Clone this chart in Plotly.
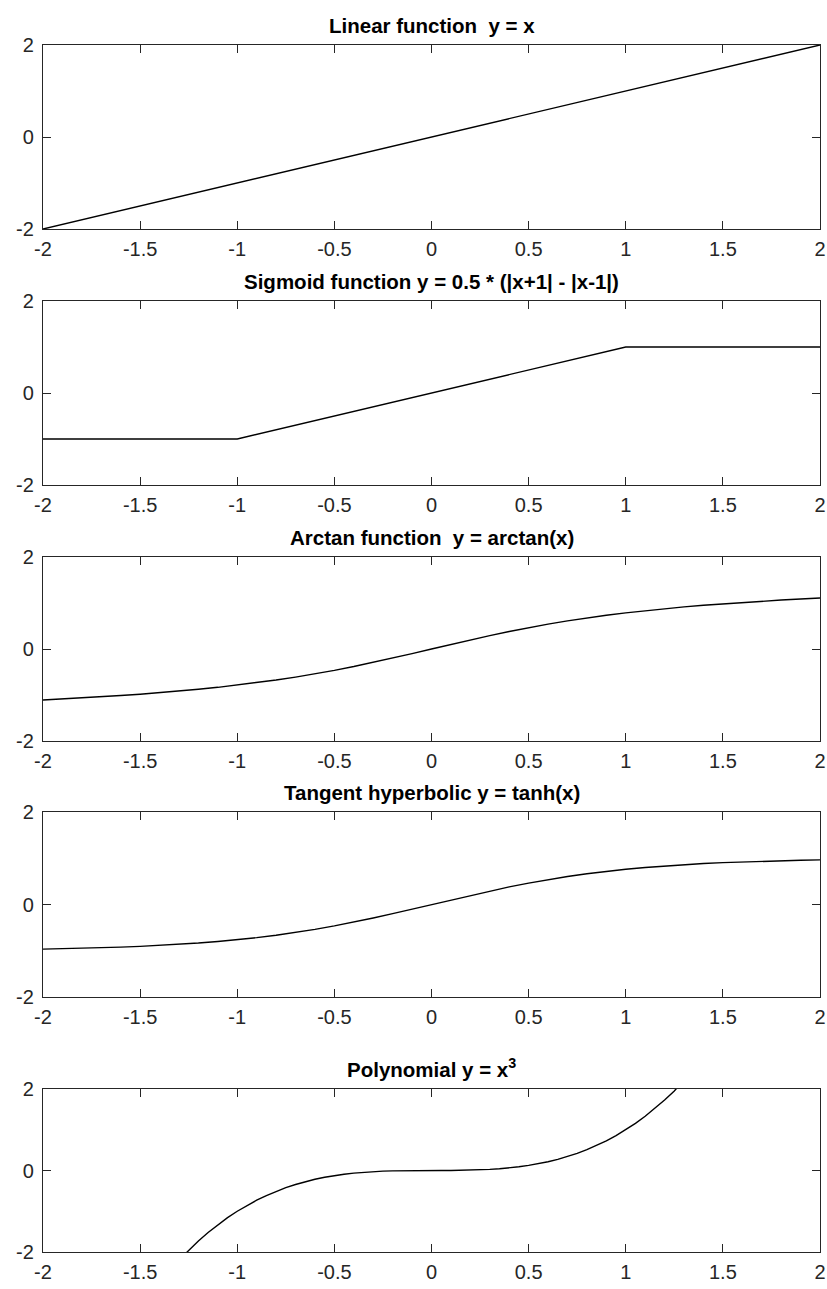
import plotly.graph_objects as go

# ---------------- data ----------------
x_linear = [-2, 2]
y_linear = [-2, 2]

x_sigmoid = [-2, -1, 1, 2]
y_sigmoid = [-1, -1, 1, 1]

x_smooth = [-2.0, -1.9, -1.8, -1.7, -1.6, -1.5, -1.4, -1.3, -1.2, -1.1, -1.0,
            -0.9, -0.8, -0.7, -0.6, -0.5, -0.4, -0.3, -0.2, -0.1, 0.0,
            0.1, 0.2, 0.3, 0.4, 0.5, 0.6, 0.7, 0.8, 0.9, 1.0,
            1.1, 1.2, 1.3, 1.4, 1.5, 1.6, 1.7, 1.8, 1.9, 2.0]
y_arctan = [-1.1071, -1.0863, -1.0637, -1.0391, -1.0122, -0.9828, -0.9505, -0.9151, -0.8761, -0.8330, -0.7854,
            -0.7328, -0.6747, -0.6107, -0.5404, -0.4636, -0.3805, -0.2915, -0.1974, -0.0997, 0.0,
            0.0997, 0.1974, 0.2915, 0.3805, 0.4636, 0.5404, 0.6107, 0.6747, 0.7328, 0.7854,
            0.8330, 0.8761, 0.9151, 0.9505, 0.9828, 1.0122, 1.0391, 1.0637, 1.0863, 1.1071]
y_tanh = [-0.9640, -0.9562, -0.9468, -0.9354, -0.9217, -0.9051, -0.8854, -0.8617, -0.8337, -0.8005, -0.7616,
          -0.7163, -0.6640, -0.6044, -0.5370, -0.4621, -0.3799, -0.2913, -0.1974, -0.0997, 0.0,
          0.0997, 0.1974, 0.2913, 0.3799, 0.4621, 0.5370, 0.6044, 0.6640, 0.7163, 0.7616,
          0.8005, 0.8337, 0.8617, 0.8854, 0.9051, 0.9217, 0.9354, 0.9468, 0.9562, 0.9640]

x_cubic = [-2.0, -1.8, -1.6, -1.4, -1.3, -1.25, -1.2, -1.15, -1.1, -1.05, -1.0,
           -0.95, -0.9, -0.85, -0.8, -0.75, -0.7, -0.65, -0.6, -0.55, -0.5,
           -0.45, -0.4, -0.35, -0.3, -0.25, -0.2, -0.15, -0.1, -0.05, 0.0,
           0.05, 0.1, 0.15, 0.2, 0.25, 0.3, 0.35, 0.4, 0.45, 0.5,
           0.55, 0.6, 0.65, 0.7, 0.75, 0.8, 0.85, 0.9, 0.95, 1.0,
           1.05, 1.1, 1.15, 1.2, 1.25, 1.3, 1.4, 1.6, 1.8, 2.0]
y_cubic = [-8.0, -5.832, -4.096, -2.744, -2.197, -1.9531, -1.728, -1.5209, -1.331, -1.1576, -1.0,
           -0.8574, -0.729, -0.6141, -0.512, -0.4219, -0.343, -0.2746, -0.216, -0.1664, -0.125,
           -0.0911, -0.064, -0.0429, -0.027, -0.0156, -0.008, -0.0034, -0.001, -0.0001, 0.0,
           0.0001, 0.001, 0.0034, 0.008, 0.0156, 0.027, 0.0429, 0.064, 0.0911, 0.125,
           0.1664, 0.216, 0.2746, 0.343, 0.4219, 0.512, 0.6141, 0.729, 0.8574, 1.0,
           1.1576, 1.331, 1.5209, 1.728, 1.9531, 2.197, 2.744, 4.096, 5.832, 8.0]

titles = [
    "Linear function&nbsp; y = x",
    "Sigmoid function y = 0.5 * (|x+1| - |x-1|)",
    "Arctan function&nbsp; y = arctan(x)",
    "Tangent hyperbolic y = tanh(x)",
    "Polynomial y = x<sup>3</sup>",
]

x_tickvals = [-2, -1.5, -1, -0.5, 0, 0.5, 1, 1.5, 2]
x_ticktext = ["-2", "-1.5", "-1", "-0.5", "0", "0.5", "1", "1.5", "2"]
y_tickvals = [-2, 0, 2]
y_ticktext = ["-2", "0", "2"]

series = [
    (x_linear, y_linear),
    (x_sigmoid, y_sigmoid),
    (x_smooth, y_arctan),
    (x_smooth, y_tanh),
    (x_cubic, y_cubic),
]

# ---------------- layout ----------------
W, H = 827, 1289
left_px, right_px = 43, 820
panels_px = [(45, 229), (301, 485), (557, 741), (812, 997), (1089, 1252)]

AX_COL = "#262626"
FONT = "Liberation Sans, Arial, Helvetica, sans-serif"

fig = go.Figure()
layout = dict(
    width=W, height=H,
    margin=dict(l=0, r=0, t=0, b=0),
    paper_bgcolor="white", plot_bgcolor="white",
    showlegend=False,
    template="none",
    font=dict(family=FONT, color=AX_COL, size=20),
)

annotations = []
for i, ((xs, ys), (top, bot)) in enumerate(zip(series, panels_px)):
    n = "" if i == 0 else str(i + 1)
    fig.add_trace(go.Scatter(x=xs, y=ys, mode="lines",
                             line=dict(color="black", width=1.4),
                             xaxis="x" + n, yaxis="y" + n, hoverinfo="skip"))
    common = dict(showline=True, linecolor=AX_COL, linewidth=1.3, mirror="allticks",
                  ticks="inside", ticklen=8, tickwidth=1.2, tickcolor=AX_COL,
                  showgrid=False, zeroline=False, automargin=False,
                  tickfont=dict(family=FONT, size=20, color=AX_COL))
    layout["xaxis" + n] = dict(
        common, domain=[left_px / W, right_px / W], range=[-2, 2],
        tickmode="array", tickvals=x_tickvals, ticktext=x_ticktext,
        anchor="y" + n, ticklabelstandoff=2,
    )
    layout["yaxis" + n] = dict(
        common, domain=[1 - bot / H, 1 - top / H], range=[-2, 2],
        tickmode="array", tickvals=y_tickvals, ticktext=y_ticktext,
        anchor="x" + n, ticklabelstandoff=4,
    )
    annotations.append(dict(
        text="<b>" + titles[i] + "</b>", xref="x" + n + " domain", yref="y" + n + " domain",
        x=0.5, y=1, xanchor="center", yanchor="bottom", yshift=6, showarrow=False,
        font=dict(family=FONT, size=20.5, color="black"),
    ))

layout["annotations"] = annotations
fig.update_layout(**layout)
fig.write_html("out.html")
